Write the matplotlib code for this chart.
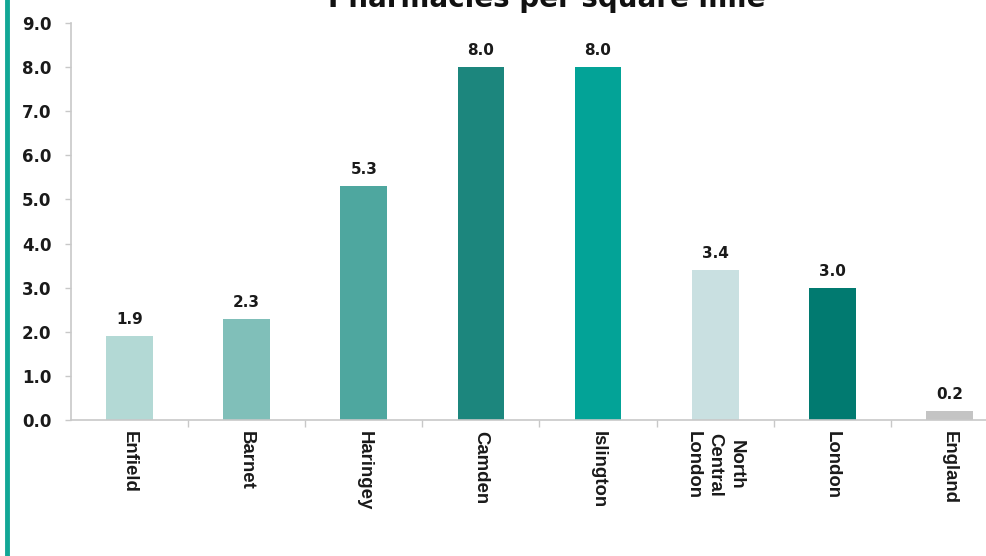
import matplotlib
matplotlib.use("Agg")
import matplotlib.pyplot as plt
from matplotlib.lines import Line2D
from matplotlib.ticker import FixedLocator

plt.rcParams['font.family'] = ['DejaVu Sans']
LABEL_FONT = ['Liberation Sans', 'DejaVu Sans']

categories = ["Enfield", "Barnet", "Haringey", "Camden", "Islington",
              "North\nCentral\nLondon", "London", "England"]
values = [1.9, 2.3, 5.3, 8.0, 8.0, 3.4, 3.0, 0.2]
colors = ["#b3d9d5", "#80bfb9", "#4ea79f", "#1c867d", "#03a397",
          "#c9e0e1", "#017a70", "#c4c4c4"]
yticks = [0.0, 1.0, 2.0, 3.0, 4.0, 5.0, 6.0, 7.0, 8.0, 9.0]
title = "Pharmacies per square mile"

W, H = 987, 556
fig = plt.figure(figsize=(W / 100, H / 100), dpi=100)
fig.patch.set_facecolor("white")

# axes frame: plot area runs past the right edge of the canvas
x0, x1, y_top, y_bot = 71, 1008, 23, 420
ax = fig.add_axes([x0 / W, 1 - y_bot / H, (x1 - x0) / W, (y_bot - y_top) / H])

x = list(range(len(categories)))
ax.bar(x, values, width=0.40, color=colors, zorder=2)
ax.set_xlim(-0.5, len(categories) - 0.5)
ax.set_ylim(0, 9)

for xi, v in zip(x, values):
    ax.annotate(f"{v:.1f}", (xi, v), xytext=(0, 6.5), textcoords="offset points",
                ha="center", va="bottom", fontsize=11, fontweight="bold",
                color="#1a1a1a")

ax.set_yticks(yticks)
ax.set_yticklabels([f"{t:.1f}" for t in yticks], fontsize=12,
                   fontweight="bold", color="#1a1a1a")
ax.tick_params(axis="y", length=4.5, width=1, color="#c8c8c8", pad=9.5)

ax.set_xticks(x)
ax.set_xticklabels(categories, rotation=270, fontsize=13.4, fontweight="bold",
                   color="#1a1a1a", ha="center", va="top",
                   multialignment="center", linespacing=1.35,
                   family=LABEL_FONT)
ax.tick_params(axis="x", length=0, pad=8)
ax.xaxis.set_minor_locator(FixedLocator([i + 0.5 for i in x[:-1]]))
ax.tick_params(axis="x", which="minor", length=5, width=1, color="#c8c8c8",
               direction="out")

for side in ("top", "right"):
    ax.spines[side].set_visible(False)
for side in ("left", "bottom"):
    ax.spines[side].set_color("#c8c8c8")
    ax.spines[side].set_linewidth(1.2)

fig.text(547 / W, 1 - 7 / H, title, ha="center", va="baseline",
         fontsize=20, fontweight="bold", color="#111111")

# teal accent bar on the left edge
fig.add_artist(Line2D([7 / W, 7 / W], [0, 1], transform=fig.transFigure,
                      color="#12a796", linewidth=3.5))

fig.savefig("out.png", dpi=100, facecolor="white")
